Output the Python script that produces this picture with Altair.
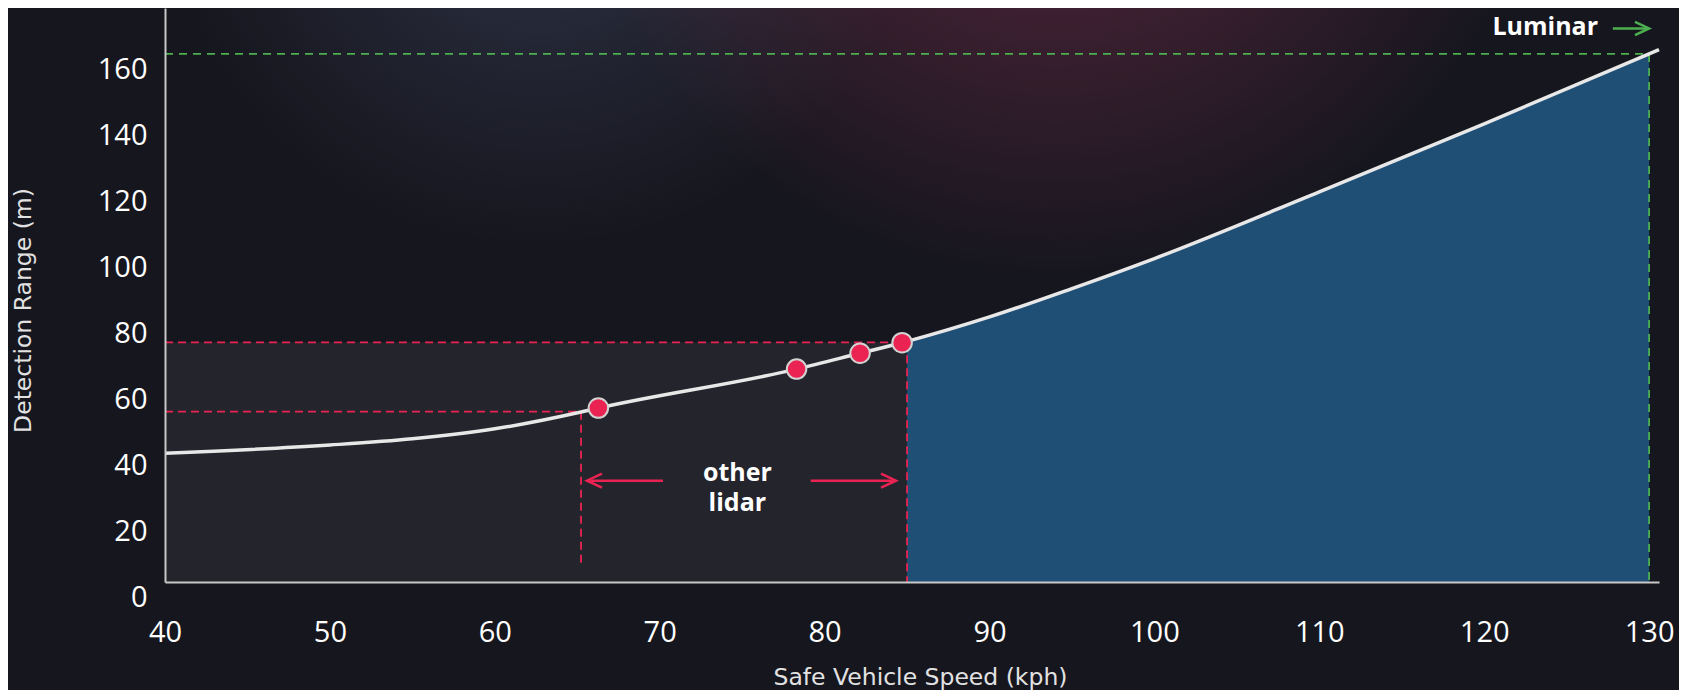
import altair as alt
import pandas as pd

# ---------------- data ----------------
# detection range curve (m) vs safe vehicle speed (kph)
speed_kph = [40, 50, 55, 60, 65.23, 66.28, 78.3, 82.15, 84.7, 85, 90, 95, 100, 110, 120, 130, 130.6]
range_m = [39.0, 41.5, 43.4, 46.4, 51.5, 52.7, 64.5, 69.3, 72.5, 72.9, 80.3, 88.9, 98.0, 118.2, 138.8, 160.0, 161.3]

# other lidar sample points
dot_speed = [66.28, 78.3, 82.15, 84.7]
dot_range = [52.7, 64.5, 69.3, 72.5]

# other lidar bounds (red dashed guides)
red_x = [40, 40, 85, 65.23]
red_x2 = [85, 65.23, 85, 65.23]
red_y = [72.6, 51.6, 72.6, 51.6]
red_y2 = [72.6, 51.6, 0, 4.3]

# Luminar guides (green dashed)
green_x = [40, 130]
green_x2 = [130, 130]
green_y = [160, 160]
green_y2 = [160, 0]

# "other lidar" region
other_x, other_x2 = [40], [85]
other_y, other_y2 = [0], [72.6]

# Luminar region (blue area) bounds
lum_lo, lum_hi = 85, 130

# arrows
red_arrow_x = [70.2, 79.16]
red_arrow_x2 = [65.59, 84.33]
red_arrow_y = [30.7, 30.7]
red_arrow_dir = ["left", "right"]
green_arrow_x = [127.8]
green_arrow_x2 = [130]
green_arrow_y = [167.7]

# annotations
note_text = ["Luminar", "other\nlidar"]
note_x = [123.7, 74.71]
note_y = [165.6, 30.5]

# background glows
glow_kind = ["red", "blue"]
glow_x = [64.0, 40.0]
glow_x2 = [124.0, 85.5]
glow_y = [10.4, 28.6]
glow_y2 = [173.9, 173.9]

x_ticks = [40, 50, 60, 70, 80, 90, 100, 110, 120, 130]
y_ticks = [0, 20, 40, 60, 80, 100, 120, 140, 160]

# ---------------- styling ----------------
BG = "#16161e"
RED = "#ea2352"
GREEN = "#4caf50"
BLUE = "#204f76"
GREY_FILL = "#24242c"
LINE = "#e8e8e8"

X_SCALE = alt.Scale(domain=[40, 130.6], nice=False, zero=False)
Y_SCALE = alt.Scale(domain=[0, 173.9], nice=False, zero=False)

X_AXIS = alt.Axis(values=x_ticks, title="Safe Vehicle Speed (kph)", grid=False, ticks=False, tickSize=0,
                  labelPadding=50, labelBaseline="middle", labelFlush=False, labelOverlap=False,
                  domainColor="#c8c8c8", domainWidth=2, titleX=755, titleY=95,
                  titleBaseline="middle", titleAlign="center", zindex=1)
Y_AXIS = alt.Axis(values=y_ticks, title="Detection Range (m)", grid=False, ticks=False, tickSize=0,
                  labelPadding=18, labelOffset=15.4, labelBaseline="middle", labelAlign="right",
                  labelOverlap=False, domainColor="#c8c8c8", domainWidth=2,
                  titleX=-142, titleY=302, titleAngle=270, titleAlign="center",
                  titleBaseline="middle", zindex=1)


def xq(f):
    return alt.X(f, type="quantitative", scale=X_SCALE, axis=X_AXIS)


def yq(f):
    return alt.Y(f, type="quantitative", scale=Y_SCALE, axis=Y_AXIS)


curve = pd.DataFrame({"speed": speed_kph, "range": range_m})
dots = pd.DataFrame({"speed": dot_speed, "range": dot_range})
red_df = pd.DataFrame({"speed": red_x, "speed2": red_x2, "range": red_y, "range2": red_y2})
green_df = pd.DataFrame({"speed": green_x, "speed2": green_x2, "range": green_y, "range2": green_y2})
other_df = pd.DataFrame({"speed": other_x, "speed2": other_x2, "range": other_y, "range2": other_y2})
red_arrows = pd.DataFrame({"speed": red_arrow_x, "speed2": red_arrow_x2, "range": red_arrow_y, "dir": red_arrow_dir})
green_arrows = pd.DataFrame({"speed": green_arrow_x, "speed2": green_arrow_x2, "range": green_arrow_y})
notes = pd.DataFrame({"speed": note_x, "range": note_y, "text": note_text})
glow_df = pd.DataFrame({"speed": glow_x, "speed2": glow_x2, "range": glow_y, "range2": glow_y2,
                        "kind": glow_kind})


def radial(r, g, b, a):
    return {
        "gradient": "radial",
        "x1": 0.5, "y1": 0.0, "r1": 0.0,
        "x2": 0.5, "y2": 0.0, "r2": 0.5,
        "stops": [
            {"offset": 0.0, "color": f"rgba({r},{g},{b},{a})"},
            {"offset": 0.5, "color": f"rgba({r},{g},{b},{a * 0.45:.3f})"},
            {"offset": 1.0, "color": f"rgba({r},{g},{b},0)"},
        ],
    }


glow_red = alt.Chart(glow_df).transform_filter(alt.datum.kind == "red").mark_rect(
    fill=radial(140, 52, 85, 0.68)
).encode(x=xq("speed"), x2="speed2", y=yq("range"), y2="range2")

glow_blue = alt.Chart(glow_df).transform_filter(alt.datum.kind == "blue").mark_rect(
    fill=radial(82, 92, 128, 0.45)
).encode(x=xq("speed"), x2="speed2", y=yq("range"), y2="range2")

other_rect = alt.Chart(other_df).mark_rect(color=GREY_FILL).encode(
    x=xq("speed"), x2="speed2", y=yq("range"), y2="range2"
)

lum_area = alt.Chart(curve).transform_filter(
    (alt.datum.speed >= lum_lo) & (alt.datum.speed <= lum_hi)
).mark_area(color=BLUE, interpolate="monotone").encode(
    x=xq("speed"), y=yq("range"), y2=alt.datum(0)
)

red_rules = alt.Chart(red_df).mark_rule(color=RED, strokeWidth=1.8, strokeDash=[8, 5]).encode(
    x=xq("speed"), x2="speed2", y=yq("range"), y2="range2"
)

green_rules = alt.Chart(green_df).mark_rule(color=GREEN, strokeWidth=1.8, strokeDash=[8, 6]).encode(
    x=xq("speed"), x2="speed2", y=yq("range"), y2="range2"
)

line = alt.Chart(curve).mark_line(color=LINE, strokeWidth=3.5, interpolate="monotone").encode(
    x=xq("speed"), y=yq("range")
)

points = alt.Chart(dots).mark_point(filled=True, fill=RED, stroke="#d2d2d2", strokeWidth=2,
                                    size=380, opacity=1, shape="circle").encode(
    x=xq("speed"), y=yq("range")
)

LEFT_HEAD = "M1,-0.47L0,0L1,0.47"
RIGHT_HEAD = "M-1,-0.47L0,0L-1,0.47"

red_shafts = alt.Chart(red_arrows).mark_rule(color=RED, strokeWidth=2.5).encode(
    x=xq("speed"), x2="speed2", y=yq("range")
)
red_heads = alt.Chart(red_arrows).mark_point(filled=False, color=RED, strokeWidth=2.5, size=900,
                                             opacity=1).encode(
    x=xq("speed2"), y=yq("range"),
    shape=alt.Shape("dir:N", scale=alt.Scale(domain=["left", "right"], range=[LEFT_HEAD, RIGHT_HEAD]),
                    legend=None),
)

green_shaft = alt.Chart(green_arrows).mark_rule(color=GREEN, strokeWidth=2.5).encode(
    x=xq("speed"), x2="speed2", y=yq("range")
)
green_head = alt.Chart(green_arrows).mark_point(filled=False, color=GREEN, strokeWidth=2.5, size=800,
                                                opacity=1, shape=RIGHT_HEAD).encode(
    x=xq("speed2"), y=yq("range")
)

texts = alt.Chart(notes).mark_text(font="Open Sans", fontWeight="bold", fontSize=25, color="#ffffff",
                                   align="center", baseline="alphabetic", lineBreak="\n",
                                   lineHeight=30).encode(
    x=xq("speed"), y=yq("range"), text="text:N"
)

chart = alt.layer(
    glow_blue, glow_red, other_rect, lum_area, red_rules, green_rules, line, points,
    red_shafts, red_heads, green_shaft, green_head, texts
).properties(
    width=1494,
    height=574,
    background=BG,
    padding={"left": 157, "top": 0, "right": 20, "bottom": 108},
    autosize=alt.AutoSizeParams(type="none"),
).configure_view(stroke=None).configure_axis(
    labelFont="Open Sans", labelFontSize=29, labelColor="#ffffff",
    titleFont="DejaVu Sans", titleFontSize=23.5, titleFontWeight="normal", titleColor="#e2e2e2",
)

chart.save("out.html", embed_options={"renderer": "svg", "actions": False})
